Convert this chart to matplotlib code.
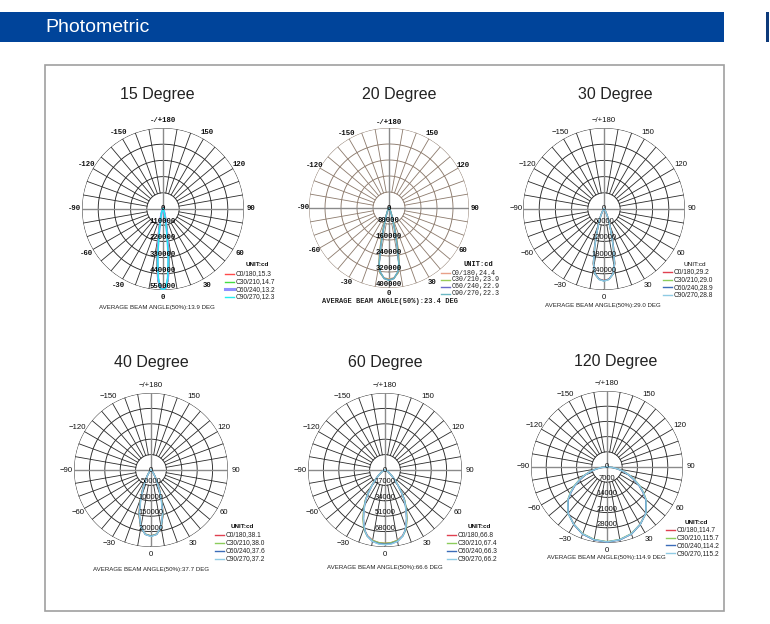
import numpy as np
import matplotlib
matplotlib.use('Agg')
import matplotlib.pyplot as plt
from matplotlib.patches import Rectangle
from matplotlib.lines import Line2D

W, H = 770, 624

# ---------------- data ----------------
titles = ["15 Degree", "20 Degree", "30 Degree", "40 Degree", "60 Degree", "120 Degree"]
plane_names = ["C0/180", "C30/210", "C60/240", "C90/270"]
angle_labels = ["0", "30", "60", "90", "120", "150", "-/+180", "-150", "-120", "-90", "-60", "-30"]
angle_label_deg = [0, 30, 60, 90, 120, 150, 180, 210, 240, 270, 300, 330]
avg_beam = [13.9, 23.4, 29.0, 37.7, 66.6, 114.9]
ring_step = [110000, 80000, 60000, 50000, 17000, 7000]
ring_labels_count = [5, 5, 4, 4, 4, 4]

beam_15 = [15.3, 14.7, 13.2, 12.3]
beam_20 = [24.4, 23.9, 22.9, 22.3]
beam_30 = [29.2, 29.0, 28.9, 28.8]
beam_40 = [38.1, 38.0, 37.6, 37.2]
beam_60 = [66.8, 67.4, 66.3, 66.2]
beam_120 = [114.7, 115.7, 114.2, 115.2]

gamma_15 = [0, 2, 4, 6, 7, 8, 10, 12, 15, 20, 25, 30, 40, 60, 90]
c0_15 = [540000, 530000, 490000, 400000, 345000, 290000, 195000, 125000, 70000, 32000, 16000, 8000, 3000, 1000, 0]
c30_15 = [545000, 533000, 485000, 385000, 325000, 270000, 180000, 115000, 65000, 30000, 15000, 8000, 3000, 1000, 0]
c60_15 = [548000, 535000, 475000, 355000, 290000, 235000, 150000, 100000, 58000, 28000, 14000, 7000, 3000, 1000, 0]
c90_15 = [550000, 535000, 465000, 335000, 265000, 210000, 130000, 90000, 55000, 27000, 13000, 7000, 3000, 1000, 0]

gamma_20 = [0, 4, 8, 10, 12, 14, 17, 20, 25, 30, 40, 60, 90]
c0_20 = [355000, 350000, 328000, 295000, 230000, 160000, 85000, 45000, 20000, 10000, 4000, 1000, 0]
c30_20 = [358000, 352000, 326000, 292000, 222000, 150000, 80000, 43000, 20000, 10000, 4000, 1000, 0]
c60_20 = [360000, 353000, 322000, 285000, 205000, 135000, 72000, 40000, 19000, 9000, 4000, 1000, 0]
c90_20 = [362000, 354000, 320000, 280000, 195000, 125000, 68000, 38000, 18000, 9000, 4000, 1000, 0]

gamma_30 = [0, 4, 8, 11, 14, 17, 20, 25, 30, 40, 60, 90]
c0_30 = [265000, 260000, 243000, 207000, 145000, 92000, 60000, 30000, 15000, 5000, 1500, 0]
c30_30 = [266000, 261000, 243000, 206000, 143000, 91000, 59000, 30000, 15000, 5000, 1500, 0]
c60_30 = [266000, 261000, 242000, 205000, 142000, 90000, 59000, 30000, 15000, 5000, 1500, 0]
c90_30 = [267000, 262000, 242000, 204000, 141000, 89000, 58000, 29000, 14000, 5000, 1500, 0]

gamma_40 = [0, 5, 10, 15, 19, 23, 27, 32, 40, 50, 60, 90]
c0_40 = [214000, 209000, 190000, 151000, 109000, 72000, 46000, 25000, 10000, 4000, 1500, 0]
c30_40 = [214000, 209000, 190000, 150000, 108000, 71000, 46000, 25000, 10000, 4000, 1500, 0]
c60_40 = [215000, 210000, 189000, 148000, 105000, 69000, 44000, 24000, 10000, 4000, 1500, 0]
c90_40 = [216000, 210000, 188000, 146000, 102000, 67000, 43000, 24000, 10000, 4000, 1500, 0]

gamma_60 = [0, 5, 10, 15, 18, 21, 24, 27, 30, 33, 36, 40, 45, 50, 60, 75, 90]
c0_60 = [81000, 80500, 79000, 75000, 71000, 65500, 59000, 52000, 45500, 39500, 32000, 23000, 15000, 9500, 4000, 1000, 0]
c30_60 = [81000, 80500, 79000, 75500, 71500, 66000, 59500, 52500, 46000, 40000, 32500, 23500, 15500, 9500, 4000, 1000, 0]
c60_60 = [82000, 81500, 80000, 75500, 71000, 65000, 58500, 51500, 45000, 39000, 31500, 22500, 15000, 9500, 4000, 1000, 0]
c90_60 = [82500, 82000, 80000, 75500, 71000, 65000, 58500, 51000, 45000, 39000, 31500, 22500, 15000, 9500, 4000, 1000, 0]

gamma_120 = [0, 10, 20, 30, 40, 50, 55, 60, 65, 70, 75, 80, 85, 90]
c0_120 = [34500, 34000, 32800, 30500, 27800, 23400, 20300, 17200, 13800, 10800, 7800, 5000, 2500, 0]
c30_120 = [34400, 33900, 32700, 30500, 27900, 23600, 20600, 17500, 14100, 11000, 8000, 5100, 2500, 0]
c60_120 = [34600, 34100, 32900, 30600, 27800, 23300, 20200, 17000, 13600, 10600, 7700, 4900, 2400, 0]
c90_120 = [34500, 34000, 32800, 30500, 27900, 23500, 20400, 17300, 13900, 10900, 7900, 5000, 2500, 0]

gammas = [gamma_15, gamma_20, gamma_30, gamma_40, gamma_60, gamma_120]
curves = [[c0_15, c30_15, c60_15, c90_15],
          [c0_20, c30_20, c60_20, c90_20],
          [c0_30, c30_30, c60_30, c90_30],
          [c0_40, c30_40, c60_40, c90_40],
          [c0_60, c30_60, c60_60, c90_60],
          [c0_120, c30_120, c60_120, c90_120]]
beams = [beam_15, beam_20, beam_30, beam_40, beam_60, beam_120]

# ---------------- layout / style ----------------
layout = [
    dict(cx=163, cy=209, R=81, lf=1.09, title=(157, 95), cap=(157, 308), leg=(225, 274, 7.6), unit=(257, 265), mono=True, mono_all=False),
    dict(cx=389, cy=208, R=80, lf=1.07, title=(399, 95), cap=(390, 301), leg=(441, 273, 7.0), unit=(478, 264), mono=True, mono_all=True),
    dict(cx=604, cy=209, R=81, lf=1.09, title=(615, 95), cap=(603, 305), leg=(663, 272, 7.6), unit=(695, 264), mono=False, mono_all=False),
    dict(cx=151, cy=470, R=77, lf=1.10, title=(151, 362), cap=(151, 569), leg=(215, 535, 8.0), unit=(242, 527), mono=False, mono_all=False),
    dict(cx=385, cy=470, R=77, lf=1.10, title=(385, 362), cap=(385, 567), leg=(447, 535, 8.0), unit=(479, 526), mono=False, mono_all=False),
    dict(cx=607, cy=467, R=76, lf=1.10, title=(616, 361), cap=(606, 558), leg=(666, 530, 7.7), unit=(696, 522), mono=False, mono_all=False),
]
colors_15 = ['#ff4a4a', '#44dd44', '#8f8fff', '#22eef0']
colors_20 = ['#e8a088', '#99cc55', '#6a6ac8', '#6ab8c4']
colors_std = ['#e04050', '#8ccc5c', '#3c6cb8', '#8fcbe4']
color_sets = [colors_15, colors_20, colors_std, colors_std, colors_std, colors_std]
grid_colors = ['#2a2a2a', '#8c7a6c', '#2a2a2a', '#2a2a2a', '#2a2a2a', '#2a2a2a']

SANS = 'Liberation Sans'
MONO = 'Liberation Mono'

fig = plt.figure(figsize=(W / 100, H / 100), dpi=100)
fig.patch.set_facecolor('white')


def fx(x):
    return x / W


def fy(y):
    return 1 - y / H


# header bar
fig.add_artist(Rectangle((fx(0), fy(42)), fx(724), 30 / H, transform=fig.transFigure,
                         facecolor='#00449a', edgecolor='none'))
fig.add_artist(Rectangle((fx(766), fy(42)), 3 / W, 30 / H, transform=fig.transFigure,
                         facecolor='#0d3a7a', edgecolor='none'))
fig.text(fx(45), fy(28), "Photometric", color='white', fontsize=14, family=SANS,
         ha='left', va='center')
# frame
fig.add_artist(Rectangle((fx(45), fy(611)), 679 / W, 546 / H, transform=fig.transFigure,
                         facecolor='none', edgecolor='#a0a0a0', lw=1.2))

for i, lay in enumerate(layout):
    cx, cy, R = lay['cx'], lay['cy'], lay['R']
    mono = lay['mono']
    fam = MONO if mono else SANS
    fw = 'bold' if mono else 'normal'
    fam2 = MONO if lay['mono_all'] else SANS
    step = ring_step[i]
    rmax = 5 * step
    gcol = grid_colors[i]
    ax = fig.add_axes([fx(cx - R), fy(cy + R), 2 * R / W, 2 * R / H], projection='polar')
    ax.set_theta_zero_location('S')
    ax.set_theta_direction(1)
    ax.set_ylim(0, rmax)
    ax.set_xticks([])
    ax.set_yticks([])
    ax.grid(False)
    ax.spines['polar'].set_visible(False)
    ax.patch.set_visible(False)

    # rings
    tt = np.linspace(0, 2 * np.pi, 721)
    for k in range(1, 6):
        ax.plot(tt, np.full_like(tt, k * step), color=gcol, lw=0.65, zorder=1)
    # spokes
    for a in range(0, 360, 10):
        t = np.deg2rad(a)
        if a % 90 == 0:
            ax.plot([t, t], [0, rmax], color='#8a8a8a', lw=1.0, zorder=1)
        else:
            ax.plot([t, t], [step, rmax], color=gcol, lw=0.6, zorder=1)

    # angle labels
    for lab, deg in zip(angle_labels, angle_label_deg):
        txt = lab if mono else lab.replace('-', '\u2212')
        ax.text(np.deg2rad(deg), rmax * lay['lf'], txt, ha='center', va='center',
                fontsize=5.3 if mono else 5.6, family=fam, fontweight=fw,
                color='#111111', clip_on=False)

    # curves
    g = np.array(gammas[i], dtype=float)
    for j, vals in enumerate(curves[i]):
        v = np.array(vals, dtype=float)
        th = np.deg2rad(np.concatenate([-g[::-1], g[1:]]))
        rr = np.concatenate([v[::-1], v[1:]])
        lw = 1.6 if (i == 0 and j == 2) else 1.0
        ax.plot(th, rr, color=color_sets[i][j], lw=lw, zorder=3)

    # radial labels
    ax.text(0, 0, "0", ha='center', va='center', fontsize=5.5, family=fam,
            fontweight=fw, color='#111111', zorder=4)
    for k in range(1, ring_labels_count[i] + 1):
        ax.text(0, k * step, str(k * step), ha='center', va='bottom',
                fontsize=5.3 if mono else 5.5, family=fam, fontweight=fw,
                color='#111111', zorder=4)

    # title
    tx, ty = lay['title']
    fig.text(fx(tx), fy(ty), titles[i], ha='center', va='center', fontsize=11.5,
             family=SANS, color='#222222')
    # caption
    capx, capy = lay['cap']
    fig.text(fx(capx), fy(capy), "AVERAGE BEAM ANGLE(50%):{:.1f} DEG".format(avg_beam[i]),
             ha='center', va='center', fontsize=5.0 if lay['mono_all'] else 4.4, family=fam2,
             fontweight='bold' if lay['mono_all'] else 'normal', color='#222222')
    # legend
    ux, uy = lay['unit']
    fig.text(fx(ux), fy(uy), "UNIT:cd", ha='center', va='center',
             fontsize=5.0 if lay['mono_all'] else 4.6, family=fam2,
             fontweight='normal' if i == 2 else 'bold', color='#111111')
    lx, ly, dy = lay['leg']
    for j in range(4):
        yy = ly + j * dy
        lw = 2.2 if (i == 0 and j == 2) else 1.0
        fig.add_artist(Line2D([fx(lx), fx(lx + 9)], [fy(yy), fy(yy)],
                              transform=fig.transFigure, color=color_sets[i][j], lw=lw))
        fig.text(fx(lx + 11), fy(yy), "{},{:.1f}".format(plane_names[j], beams[i][j]),
                 ha='left', va='center', fontsize=4.8, family=fam2,
                 fontweight='normal', color='#222222')

fig.savefig('out.png', dpi=100, facecolor='white')
